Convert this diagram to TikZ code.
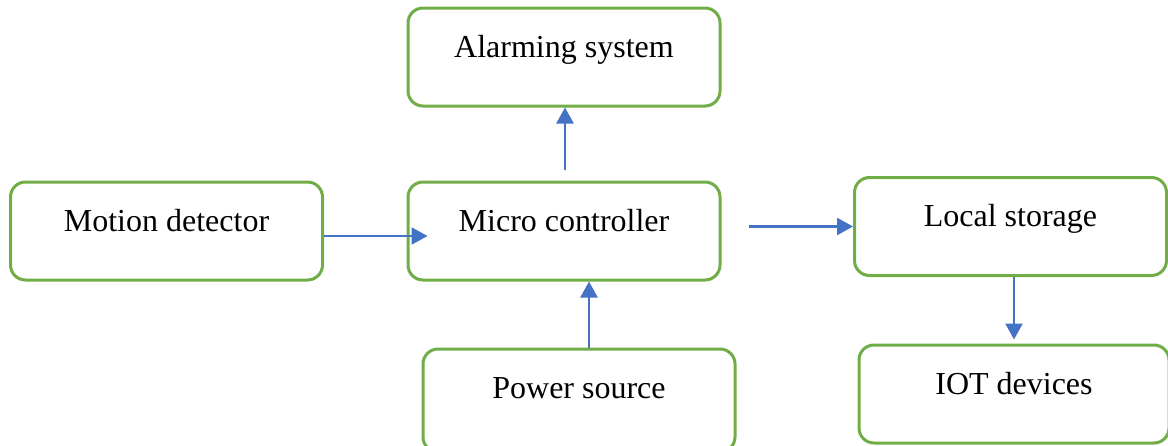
\documentclass[tikz,border=0pt]{standalone}
\usepackage{fontspec}
\setmainfont{Liberation Serif}
\usepackage{tikz}
\usetikzlibrary{arrows.meta}
\definecolor{boxgreen}{HTML}{70AD47}
\definecolor{arrowblue}{HTML}{4472C4}

\begin{document}
\begin{tikzpicture}[x=0.5pt,y=-0.5pt,
  block/.style={draw=boxgreen, line width=1.5pt, rounded corners=7.5pt,
    minimum width=156pt, inner ysep=0pt, text height=24.5pt, text depth=24.5pt,
    font=\fontsize{16}{19}\selectfont},
  flow/.style={draw=arrowblue, line width=1.2pt,
    -{Triangle[length=8pt,width=8.5pt]}}]
\clip (0,0) rectangle (1168,445);
\node [block] (alarm) at (564,57) {Alarming system};
\node [block] (motion) at (166.5,231) {Motion detector};
\node [block] (micro) at (564,231) {Micro controller};
\node [block] (local) at (1010.5,226.5) {Local storage};
\node [block, text depth=27pt] (power) at (579,400.5) {Power source};
\node [block, minimum width=155pt] (iot) at (1014,394) {IOT devices};
\draw [flow] ([xshift=0.5pt,yshift=5.5pt]micro.north) -- ([xshift=0.5pt]alarm.south);
\draw [flow] ([yshift=-2.5pt]motion.east) -- ([xshift=10.5pt,yshift=-2.5pt]micro.west);
\draw [flow] ([xshift=13.5pt,yshift=2.25pt]micro.east) -- (local.west);
\draw [flow] ([xshift=5pt]power.north) -- ([xshift=12.5pt]micro.south);
\draw [flow] ([xshift=1.75pt]local.south) -- ([yshift=2pt]iot.north);
\end{tikzpicture}
\end{document}
